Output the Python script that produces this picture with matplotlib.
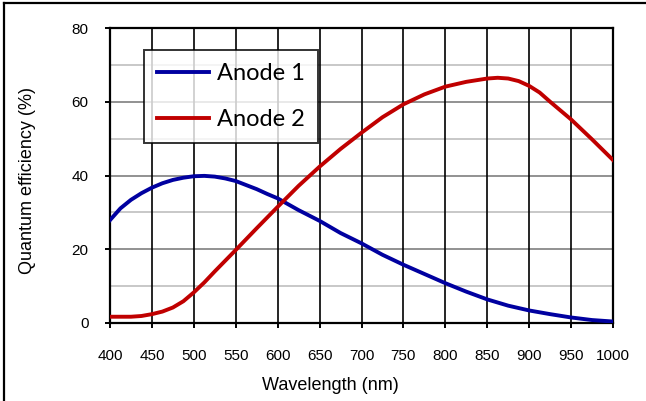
import numpy as np
import matplotlib
matplotlib.use("Agg")
import matplotlib.pyplot as plt
from matplotlib.lines import Line2D

# values
wl1 = [400, 412.5, 425, 437.5, 450, 462.5, 475, 487.5, 500, 512.5, 525, 537.5, 550,
       562.5, 575, 587.5, 600, 625, 650, 675, 700, 725, 750, 775, 800, 825, 850,
       875, 900, 925, 950, 975, 1000]
anode1 = [27.9, 31.1, 33.4, 35.2, 36.7, 37.9, 38.8, 39.4, 39.8, 39.9, 39.7, 39.2, 38.5,
          37.4, 36.3, 35.0, 33.8, 30.6, 27.7, 24.4, 21.6, 18.5, 15.8, 13.3, 10.8, 8.5, 6.4,
          4.7, 3.4, 2.4, 1.5, 0.8, 0.4]
wl2 = [400, 425, 437.5, 450, 462.5, 475, 487.5, 500, 512.5, 525, 550, 575, 600, 625,
       650, 675, 700, 725, 750, 775, 800, 825, 850, 862.5, 875, 887.5, 900, 912.5,
       925, 937.5, 950, 975, 1000]
anode2 = [1.7, 1.7, 1.9, 2.4, 3.1, 4.2, 5.9, 8.3, 11.0, 14.0, 19.8, 25.7, 31.5, 37.2,
          42.4, 47.2, 51.6, 55.8, 59.3, 62.0, 64.1, 65.4, 66.3, 66.5, 66.3, 65.6, 64.3, 62.5,
          60.0, 57.6, 55.2, 49.8, 44.2]
labels = ["Anode 1", "Anode 2"]
colors = ["#0000A0", "#C00000"]

fig = plt.figure(figsize=(6.46, 4.01), dpi=100)
ax = fig.add_axes([110/646, 78/401, 503/646, 295/401])

ax.plot(wl1, anode1, color=colors[0], lw=2.8, zorder=5, solid_joinstyle="round")
ax.plot(wl2, anode2, color=colors[1], lw=2.8, zorder=5, solid_joinstyle="round")

ax.set_xlim(400, 1000)
ax.set_ylim(0, 80)
ax.set_xticks(np.arange(400, 1001, 50))
ax.set_yticks(np.arange(0, 81, 20))

# gridlines: light minor, gray major, black verticals
for y in np.arange(10, 80, 20):
    ax.axhline(y, color="#bfbfbf", lw=1.2, zorder=1)
for y in np.arange(20, 81, 20):
    ax.axhline(y, color="#7f7f7f", lw=1.2, zorder=1)
for x in np.arange(450, 1000, 50):
    ax.axvline(x, color="black", lw=1.2, zorder=2)

for s in ax.spines.values():
    s.set_linewidth(1.6)
    s.set_color("black")

ax.tick_params(axis="x", direction="out", length=3.5, width=1.4, pad=15.5,
               labelsize=11)
ax.tick_params(axis="y", direction="out", length=3.5, width=1.4, pad=12,
               labelsize=11)
for t in ax.get_xticklabels() + ax.get_yticklabels():
    t.set_fontfamily("Liberation Sans")

fig.text(330/646, 1 - 386/401, "Wavelength (nm)", ha="center", va="center",
         fontsize=13, family="Liberation Sans")
fig.text(28/646, 1 - 180/401, "Quantum efficiency (%)", ha="center", va="center",
         rotation=90, fontsize=13, family="Liberation Sans")

handles = [Line2D([], [], color=c, lw=2.8) for c in colors]
leg = ax.legend(handles, labels, loc="upper left",
                bbox_to_anchor=(34/503, 273/295), borderaxespad=0,
                prop={"family": "Lato", "size": 17}, frameon=True, fancybox=False,
                handlelength=2.2, handletextpad=0.35, labelspacing=1.05,
                borderpad=0.55)
leg.get_frame().set_edgecolor("black")
leg.get_frame().set_linewidth(1.4)
leg.set_zorder(10)

# outer chart frame (left and top edges visible)
fig.add_artist(Line2D([4/646, 4/646], [0, 1 - 3/401], color="black", lw=1.6,
                      transform=fig.transFigure))
fig.add_artist(Line2D([4/646, 1], [1 - 3/401, 1 - 3/401], color="black", lw=1.6,
                      transform=fig.transFigure))

fig.savefig("out.png", dpi=100)
